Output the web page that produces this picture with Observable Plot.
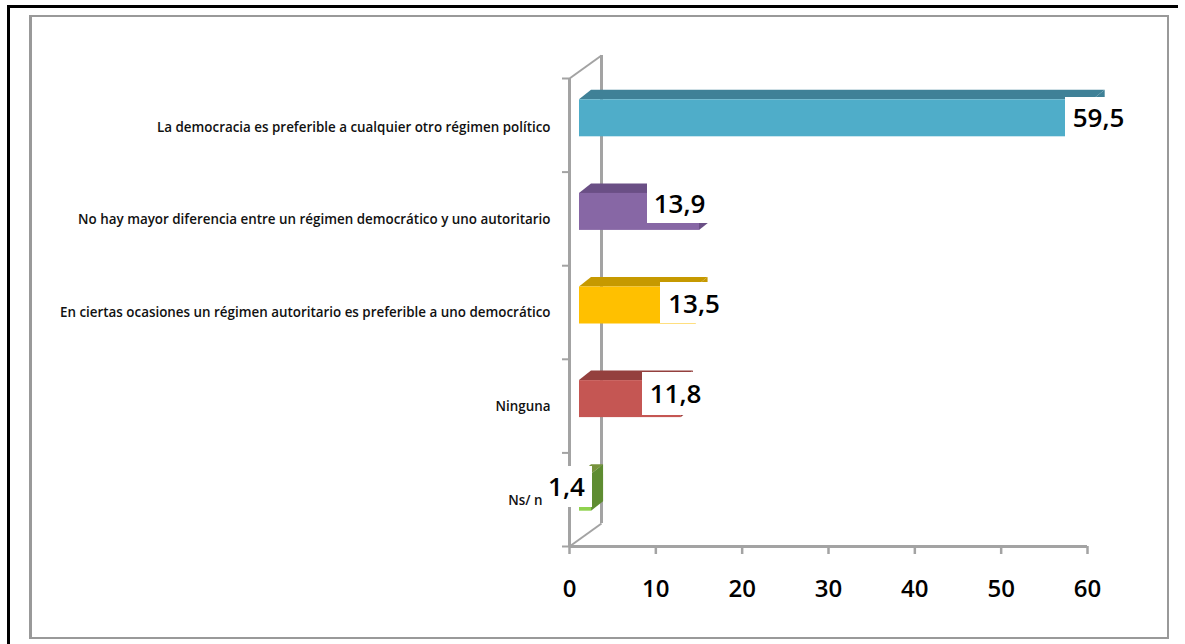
<!DOCTYPE html>
<html>
<head>
<meta charset="utf-8">
<script src="https://cdn.jsdelivr.net/npm/d3@7"></script>
<script src="https://cdn.jsdelivr.net/npm/@observablehq/plot@0.6"></script>
<style>
html,body{margin:0;padding:0;background:#fff;width:1185px;height:644px;overflow:hidden}
#wrap{position:relative;width:1185px;height:644px}
#outer{position:absolute;left:7px;top:5px;bottom:-10px;border-left:3px solid #000;border-top:3px solid #000;box-sizing:border-box;width:1171px}
#inner{position:absolute;left:29px;top:15px;width:1140px;height:624px;box-sizing:border-box;border:3px solid #999;border-width:2px 2px 2px 3px}
#chart{position:absolute;left:0;top:0}
svg{background:transparent!important}
</style>
</head>
<body>
<div id="wrap"><div id="outer"></div><div id="inner"></div><div id="chart"></div></div>
<script>
// Data
const categories = [
  "Ns/ n",
  "Ninguna",
  "En ciertas ocasiones un régimen autoritario es preferible a uno democrático",
  "No hay mayor diferencia entre un régimen democrático y uno autoritario",
  "La democracia es preferible a cualquier otro régimen político"
];
const values = [1.4, 11.8, 13.5, 13.9, 59.5];
const valueLabels = ["1,4", "11,8", "13,5", "13,9", "59,5"];
const xTicks = [0, 10, 20, 30, 40, 50, 60];

// Colours per category
const frontColors = ["#8FD24E", "#C55653", "#FFC000", "#8767A5", "#4FADC9"];
const topColors   = ["#77933C", "#94403E", "#C69900", "#6A4F85", "#3F8197"];
const sideColors  = ["#5E8C31", "#94403E", "#C69900", "#6A4F85", "#3F8197"];

// Layout of the pseudo-3D box, in scale units
const pxX = 518 / 60, pxY = 468 / 5;
const u = p => p / pxX, v = p => p / pxY;
const barShiftX = u(10), barShiftY = v(7);
const barHalf = v(18.5);
const depthX = u(12), depthY = v(9.5);
const wallX = u(32), wallY = v(23);

// Placement of the hand-moved value labels (pixel offsets from the axis origin)
const labelCenterX = [-3, 106, 124.5, 110, 529].map(u);
const labelCenterY = [59, 152, 242, 342, 428].map(v);
const boxLeft  = [-29, 73, 91, 78, 496].map(u);
const boxRight = [23, 145, 155, 145, 565].map(u);
const boxBottom = [39, 131, 223, 323, 408].map(v);
const boxTop    = [80, 174, 264, 363, 449].map(v);
const categoryLabelX = [-27, -19, -19, -19, -19].map(u);
const categoryLabelY = [46, 140, 234, 327, 419].map(v);

const rows = categories.map((c, i) => ({
  c, i, value: values[i], label: valueLabels[i],
  x0: barShiftX, x1: barShiftX + values[i],
  yb: i + 0.5 + barShiftY - barHalf, yt: i + 0.5 + barShiftY + barHalf,
  front: frontColors[i], top: topColors[i], side: sideColors[i],
  lx: labelCenterX[i], ly: labelCenterY[i],
  bl: boxLeft[i], br: boxRight[i], bb: boxBottom[i], bt: boxTop[i],
  cx: categoryLabelX[i], cy: categoryLabelY[i]
}));

const topFaces = rows.flatMap(r => [
  {c: r.c, fill: r.top, a: r.x0, b: r.x1, y: r.yt},
  {c: r.c, fill: r.top, a: r.x0 + depthX, b: r.x1 + depthX, y: r.yt + depthY}
]);
const sideFaces = rows.flatMap(r => [
  {c: r.c, fill: r.side, x: r.x1, y1: r.yb, y2: r.yt},
  {c: r.c, fill: r.side, x: r.x1 + depthX, y1: r.yb + depthY, y2: r.yt + depthY}
]);

const axisColor = "#A3A3A3";
const font = "'Open Sans', Lato, sans-serif";

const plot = Plot.plot({
  width: 1185, height: 644,
  marginLeft: 569, marginRight: 98, marginTop: 78, marginBottom: 98,
  style: {background: "transparent"},
  x: {domain: [0, 60], label: null},
  y: {domain: [0, 5], label: null},
  marks: [
    // Box edges
    Plot.ruleX([wallX], {y1: wallY, y2: 5 + wallY, stroke: axisColor, strokeWidth: 3}),
    Plot.link([0, 5], {x1: 0, x2: wallX, y1: d => d, y2: d => d + wallY, stroke: axisColor, strokeWidth: 2}),
    Plot.axisX({ticks: xTicks, tickSize: 8, tickPadding: 25, stroke: axisColor, strokeWidth: 2.5, fill: "#000",
      fontSize: 24, fontWeight: 600, fontFamily: font, label: null}),
    Plot.axisY({ticks: [0, 1, 2, 3, 4, 5], tickSize: 7, tickFormat: () => "", stroke: axisColor, strokeWidth: 2, label: null}),
    Plot.ruleY([0], {stroke: axisColor, strokeWidth: 3}),
    Plot.ruleX([0], {stroke: axisColor, strokeWidth: 3}),
    // Bars
    Plot.areaX(topFaces, {x1: "a", x2: "b", y: "y", z: "c", fill: "fill"}),
    Plot.areaY(sideFaces, {x: "x", y1: "y1", y2: "y2", z: "c", fill: "fill"}),
    Plot.rect(rows, {x1: "x0", x2: "x1", y1: "yb", y2: "yt", fill: "front"}),
    // White boxes behind the value labels
    Plot.rect(rows, {x1: "bl", x2: "br", y1: "bb", y2: "bt", fill: "#fff"}),
    Plot.text(rows, {x: "lx", y: "ly", text: "label", fontSize: 26, fontWeight: 600, fontFamily: font, fill: "#000", textAnchor: "middle"}),
    // Category labels
    Plot.text(rows, {x: "cx", y: "cy", text: "c", textAnchor: "end", fontSize: 13.4, fontWeight: 600, fontFamily: font, fill: "#111"})
  ]
});
document.getElementById("chart").appendChild(plot);
</script>
</body>
</html>
